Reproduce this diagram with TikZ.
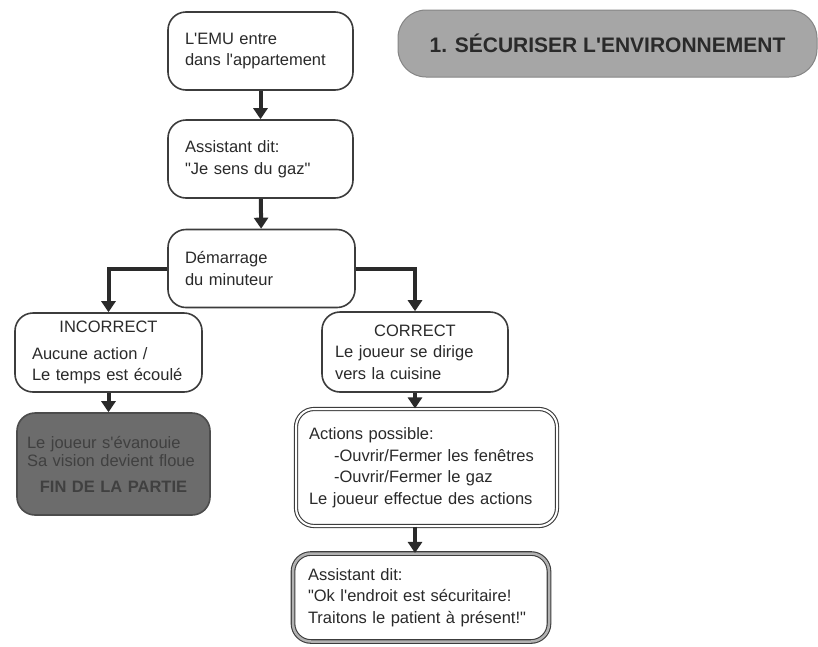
\documentclass[tikz,border=0pt]{standalone}
\usepackage{fontspec}
\setmainfont{Liberation Sans}
\usepackage{xcolor}
\usepackage{tikz}
\usetikzlibrary{arrows.meta,positioning}

\definecolor{inkgray}{HTML}{2A2A2A}
\definecolor{edgegray}{HTML}{3C3C3C}
\definecolor{fingray}{HTML}{6C6C6C}
\definecolor{titlegray}{HTML}{A6A6A6}

\newcommand{\q}{\textquotedbl}
\newcommand{\ap}{\textquotesingle}

\begin{document}
\begin{tikzpicture}[
  x=1pt, y=-1pt,
  >={Triangle[length=11pt,width=14pt]},
  font=\fontsize{16.5}{21.5}\selectfont,
  box/.style={draw=edgegray, line width=1.6pt, rounded corners=18pt, align=left, text=inkgray, fill=white, inner xsep=13pt, inner ysep=3pt},
  stepbox/.style={box, text width=151pt, inner xsep=17pt, minimum height=78pt},
  doublebox/.style={box, double=white, double distance=2pt, line width=1.1pt},
  endbox/.style={box, draw=fingray!70!black, fill=fingray, text=black!75},
  titlebox/.style={draw=titlegray!80!black, fill=titlegray, rounded corners=28pt, line width=1pt, text=inkgray, font=\fontsize{21}{25}\selectfont\bfseries, minimum width=419pt, minimum height=67pt},
  arrow/.style={->, line width=4pt, draw=inkgray}
]
\useasboundingbox (0,0) rectangle (818,646);

\node[titlebox] (titre) at (607.5,43.5) {1. SÉCURISER L\ap ENVIRONNEMENT};

\node[stepbox] (emu) at (260.5,51) {L\ap EMU entre\\dans l\ap appartement};
\node[stepbox] (gaz) at (260.5,159) {Assistant dit:\\\q Je sens du gaz\q};
\node[stepbox, text width=153pt] (minuteur) at (261.5,268.5) {Démarrage\\du minuteur};

\node[stepbox, text width=153pt, minimum height=79pt] (incorrect) at (108.5,352.5)
  {\makebox[\linewidth]{INCORRECT}\\[5pt]Aucune action /\\Le temps est écoulé};
\node[endbox, text width=173pt, inner xsep=10pt, minimum height=102pt] (fin) at (113.5,464)
  {Le joueur s\ap évanouie\\[-3pt]Sa vision devient floue\\[4pt]\makebox[\linewidth]{\bfseries FIN DE LA PARTIE}};

\node[box, text width=160pt, minimum height=80pt] (correct) at (415,352)
  {\makebox[\linewidth]{CORRECT}\\Le joueur se dirige\\vers la cuisine};
\node[doublebox, text width=235pt, minimum height=117pt] (actions) at (426.5,467.5)
  {Actions possible:\\\hspace*{25pt}-Ouvrir/Fermer les fenêtres\\\hspace*{25pt}-Ouvrir/Fermer le gaz\\Le joueur effectue des actions};
\node[doublebox, double=black!30, double distance=2.5pt, text width=226pt, inner xsep=15pt, minimum height=88pt] (secur) at (421,597.5)
  {Assistant dit:\\\q Ok l\ap endroit est sécuritaire!\\Traitons le patient à présent!\q};

\draw[arrow] (emu) -- (gaz);
\draw[arrow] (gaz) -- (minuteur);
\draw[arrow] (minuteur.west) -| (incorrect.north);
\draw[arrow] (minuteur.east) -| (correct.north);
\draw[arrow] (incorrect.south) -- (incorrect.south |- fin.north);
\draw[arrow] (correct.south) -- (correct.south |- actions.north);
\draw[arrow] (actions.south -| correct.south) -- (secur.north -| correct.south);
\end{tikzpicture}
\end{document}
